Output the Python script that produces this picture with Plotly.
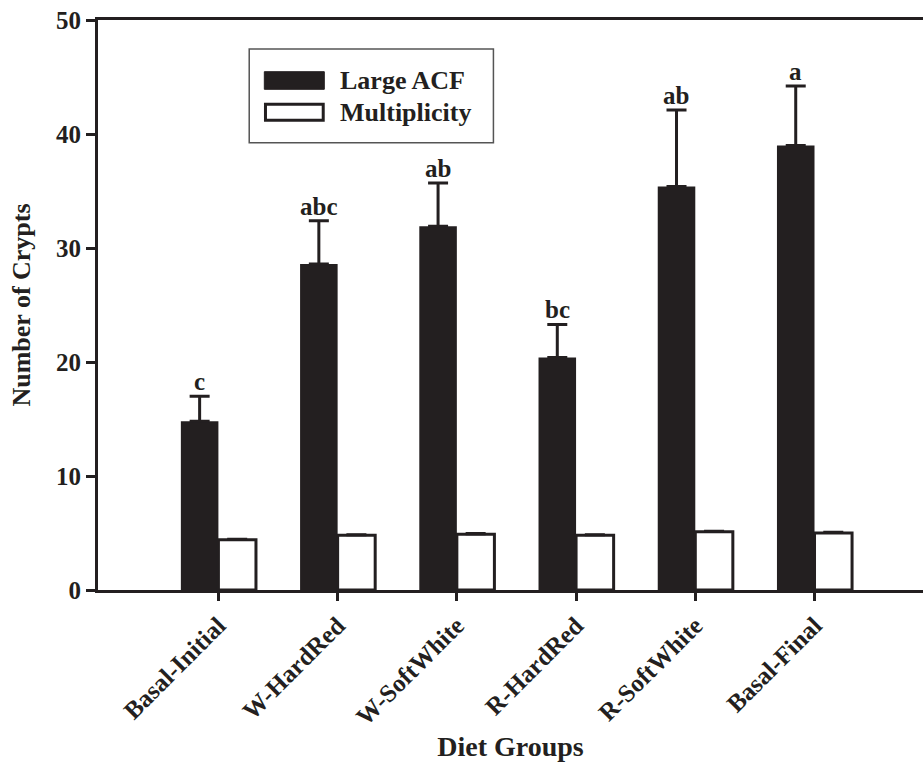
import plotly.graph_objects as go

categories = ["Basal-Initial", "W-HardRed", "W-SoftWhite", "R-HardRed", "R-SoftWhite", "Basal-Final"]
large_acf = [14.8, 28.6, 31.9, 20.4, 35.4, 39.0]
large_acf_err = [2.2, 3.8, 3.8, 2.9, 6.7, 5.2]
multiplicity = [4.4, 4.8, 4.9, 4.8, 5.1, 5.0]
multiplicity_err = [0.1, 0.1, 0.1, 0.1, 0.1, 0.1]
sig_letters = ["c", "abc", "ab", "bc", "ab", "a"]
y_ticks = [0, 10, 20, 30, 40, 50]

FONT = "Liberation Serif"
DARK = "#231f20"
xpos = list(range(len(categories)))

fig = go.Figure()
fig.add_trace(go.Bar(
    x=xpos, y=large_acf, name="Large ACF",
    marker=dict(color=DARK, line=dict(width=0)),
    error_y=dict(type="data", array=large_acf_err, arrayminus=[0]*6, symmetric=False,
                 color=DARK, thickness=3, width=10),
))
fig.add_trace(go.Bar(
    x=xpos, y=multiplicity, name="Multiplicity",
    marker=dict(color="white", line=dict(color=DARK, width=3)),
    error_y=dict(type="data", array=multiplicity_err, arrayminus=[0]*6, symmetric=False,
                 color=DARK, thickness=2, width=10),
))

# significance letters above the Large ACF error bars
for i, (m, e, s) in enumerate(zip(large_acf, large_acf_err, sig_letters)):
    fig.add_annotation(x=i - 0.16, y=m + e, text=f"<b>{s}</b>", showarrow=False,
                       yanchor="bottom", yshift=-1, xanchor="center",
                       font=dict(family=FONT, size=25, color=DARK))

# manual legend
fig.add_shape(type="rect", xref="x domain", yref="y domain", x0=0.1833, x1=0.4793, y0=0.7847, y1=0.9491,
              line=dict(color="#555", width=1.5), fillcolor="white", layer="above")
fig.add_shape(type="rect", xref="x domain", yref="y domain", x0=0.2016, x1=0.2743, y0=0.8784, y1=0.9093,
              line=dict(color=DARK, width=1), fillcolor=DARK, layer="above")
fig.add_shape(type="rect", xref="x domain", yref="y domain", x0=0.2030, x1=0.2730, y0=0.8240, y1=0.8520,
              line=dict(color=DARK, width=3), fillcolor="white", layer="above")
fig.add_annotation(xref="x domain", yref="y domain", x=0.2908, y=0.893, text="<b>Large ACF</b>",
                   showarrow=False, xanchor="left", yanchor="middle",
                   font=dict(family=FONT, size=26, color=DARK))
fig.add_annotation(xref="x domain", yref="y domain", x=0.2908, y=0.8374, text="<b>Multiplicity</b>",
                   showarrow=False, xanchor="left", yanchor="middle",
                   font=dict(family=FONT, size=26, color=DARK))

fig.update_layout(
    width=923, height=767,
    margin=dict(l=98, r=0, t=20, b=177),
    paper_bgcolor="white", plot_bgcolor="white",
    barmode="group", bargap=0.37, bargroupgap=0,
    showlegend=False,
    font=dict(family=FONT, color=DARK),
)
fig.update_xaxes(
    range=[-1.01, 5.91], automargin=False,
    tickvals=xpos, ticktext=[f"<b>{c}</b>" for c in categories],
    tickangle=-45, tickfont=dict(family=FONT, size=25, color=DARK),
    ticks="outside", ticklen=8, tickwidth=3, tickcolor=DARK,
    showline=True, linewidth=3, linecolor=DARK, mirror=True,
    showgrid=False, zeroline=False,
    title=dict(text="<b>Diet Groups</b>", font=dict(family=FONT, size=28, color=DARK), standoff=8),
)
fig.update_yaxes(
    range=[0, 50], automargin=False,
    tickvals=y_ticks, ticktext=[f"<b>{t}</b>" for t in y_ticks],
    tickfont=dict(family=FONT, size=25, color=DARK),
    ticks="outside", ticklen=9, tickwidth=3, tickcolor=DARK,
    showline=True, linewidth=3, linecolor=DARK, mirror=False,
    showgrid=False, zeroline=False,
    title=dict(text="<b>Number of Crypts</b>", font=dict(family=FONT, size=26, color=DARK), standoff=18),
)

fig.write_html("out.html", config={"displayModeBar": False},
               post_script="document.body.style.margin='0';document.body.style.padding='0';")
